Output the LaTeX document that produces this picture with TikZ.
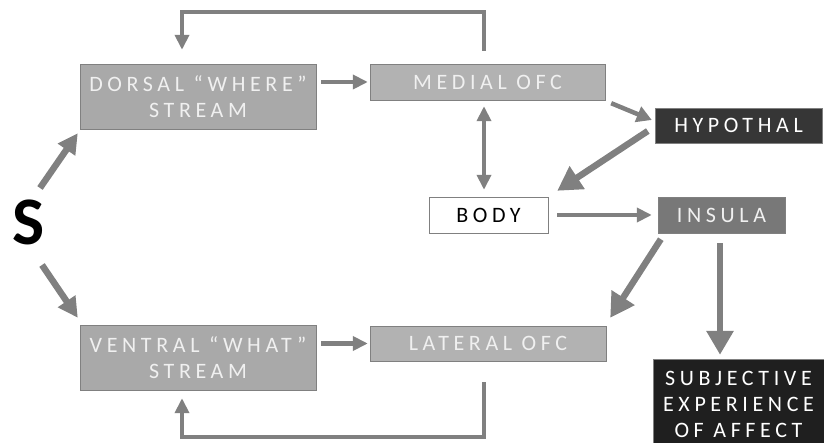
\documentclass[tikz,border=0pt]{standalone}
\usepackage{fontspec}
\newfontfamily\boxfont[LetterSpace=21]{Carlito}
\newfontfamily\bigfont{Carlito}
\usetikzlibrary{arrows.meta,positioning}
\definecolor{arrgray}{HTML}{808080}
\definecolor{boxgray}{HTML}{A9A9A9}
\definecolor{ofcgray}{HTML}{B2B2B2}
\definecolor{insgray}{HTML}{787878}
\definecolor{darkbox}{HTML}{363636}

\begin{document}
\begin{tikzpicture}[x=1pt,y=-1pt,
                    every node/.style={inner sep=0pt,align=center,
                      font=\boxfont\fontsize{22}{26}\selectfont}]
  \tikzstyle{region}=[fill=boxgray,draw=gray,text=white!94!black]
  \tikzstyle{ofc}=[region,fill=ofcgray]
  \tikzstyle{dark}=[fill=darkbox,draw=gray,text=white]
  \tikzstyle{arr}=[draw=arrgray,line width=4.5pt,
                   -{Triangle[length=15pt,width=14pt]}]
  \tikzstyle{bigarr}=[draw=arrgray,line width=6.5pt,
                   -{Triangle[length=24pt,width=26pt]}]
  \useasboundingbox (0,0) rectangle (824,443);

  \node[font=\bigfont\bfseries\fontsize{68}{68}\selectfont] (S) at (29,222) {S};
  \node[region,minimum width=236pt,minimum height=65pt] (dorsal) at (198,96.5)
      {DORSAL “WHERE”\\STREAM};
  \node[region,minimum width=236pt,minimum height=65pt] (ventral) at (198,357.5)
      {VENTRAL “WHAT”\\STREAM};
  \node[ofc,minimum width=235pt,minimum height=36pt] (medial) at (487.5,82) {MEDIAL OFC};
  \node[ofc,minimum width=236pt,minimum height=35pt] (lateral) at (488,343.5) {LATERAL OFC};
  \node[draw=gray,fill=white,minimum width=119pt,minimum height=36pt] (body) at (488.5,215) {BODY};
  \node[dark,minimum width=167pt,minimum height=35pt] (hypothal) at (738.5,125.5) {HYPOTHAL};
  \node[region,fill=insgray,minimum width=127pt,minimum height=36pt] (insula) at (721.5,215) {INSULA};
  \node[dark,fill=black!88,minimum width=171pt,minimum height=90pt] (subj) at (738.5,404)
      {SUBJECTIVE\\EXPERIENCE\\OF AFFECT};

  % streams
  \draw[bigarr,-{Triangle[length=20pt,width=20pt]}]
      ([xshift=11pt,yshift=34pt]S.center) -- ([xshift=-2pt,yshift=-4pt]dorsal.south west);
  \draw[bigarr,-{Triangle[length=20pt,width=20pt]}]
      ([xshift=13pt,yshift=-43pt]S.center) -- ([xshift=-2pt,yshift=7pt]ventral.north west);
  \draw[arr,shorten <=5pt,shorten >=2pt] (dorsal.east |- medial) -- (medial.west);
  \draw[arr,shorten <=5pt,shorten >=2pt] (ventral.east |- lateral) -- (lateral.west);

  % feedback loops
  \draw[arr,shorten <=13pt,shorten >=14pt]
      ([xshift=-3.5pt]medial.north) -- ++(0,-52) -| ([xshift=-16pt]dorsal.north);
  \draw[arr,shorten <=21pt,shorten >=8pt]
      ([xshift=-4pt]lateral.south) -- ++(0,76) -| ([xshift=-16pt]ventral.south);

  % body loop
  \draw[arr,{Triangle[length=15pt,width=14pt]}-{Triangle[length=15pt,width=14pt]},
        shorten <=6pt,shorten >=7pt]
      ([xshift=-3.5pt]medial.south) -- ([xshift=-3.5pt]medial.south |- body.north);
  \draw[arr,-{Triangle[length=15pt,width=16pt]}]
      ([xshift=6pt,yshift=-3pt]medial.south east) -- ([xshift=-3pt,yshift=5.5pt]hypothal.west);
  \draw[bigarr] ([xshift=-7pt,yshift=-5.5pt]hypothal.west) -- ([xshift=9pt,yshift=6pt]body.north east);
  \draw[arr,shorten <=9pt,shorten >=6pt] (body.east) -- (insula.west);
  \draw[bigarr] ([xshift=3pt,yshift=-6pt]insula.south west) -- ([xshift=4pt,yshift=8pt]lateral.north east);
  \draw[bigarr,shorten <=10pt,shorten >=4pt]
      ([xshift=-1.5pt]insula.south) -- ([xshift=-1.5pt]insula.south |- subj.north);
\end{tikzpicture}
\end{document}
